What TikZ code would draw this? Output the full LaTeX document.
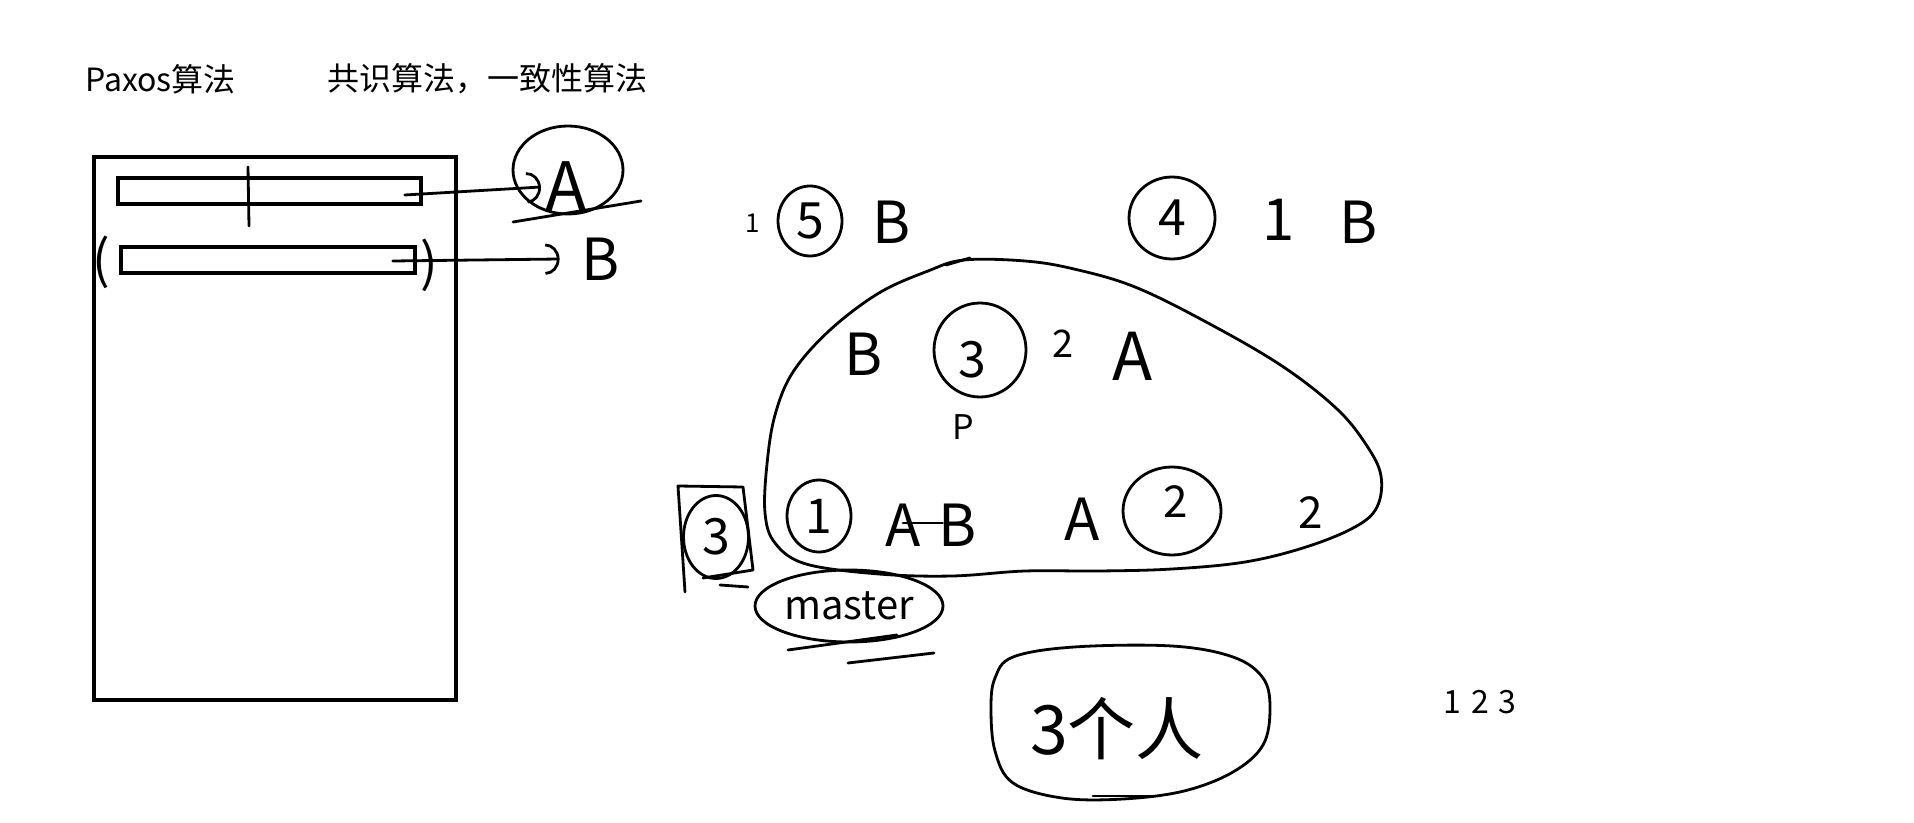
\documentclass[tikz,border=0pt]{standalone}
\usepackage{fontspec}
\setmainfont{Noto Sans CJK SC}
\usetikzlibrary{arrows.meta, positioning, shapes.geometric}

\begin{document}
\begin{tikzpicture}[
    x=0.5pt, y=-0.5pt,
    every node/.style={inner sep=0pt},
    title/.style={font=\fontsize{16}{18}\selectfont, anchor=west},
    hand/.style={font=\fontsize{29}{30}\selectfont},
    handsmall/.style={font=\fontsize{19}{20}\selectfont},
    ring/.style={ellipse, draw, line width=1.4pt},
    bar/.style={rectangle, draw, line width=1.8pt, minimum height=13pt},
    stroke/.style={line width=1.4pt, line cap=round, line join=round},
    arrow/.style={stroke, -{Arc Barb[length=2.5mm, width=5.5mm]}}
]
\useasboundingbox (0,0) rectangle (1914,823);

% headings
\node[title] (paxos) at (85,79) {Paxos算法};
\node[title] (consensus) at (327,79) {共识算法，一致性算法};

% the page with two proposals
\node[draw, line width=1.8pt, anchor=north west, minimum width=181pt, minimum height=271.5pt] (page) at (92,155) {};
\node[bar, minimum width=151.5pt] (bar1) at (269.5,191) {};
\node[bar, minimum width=147pt] (bar2) at (268,260) {};
\draw[stroke] (248,167) -- (249,226);
\node[hand, font=\fontsize{26}{26}\selectfont] (lparen) at (101,262) {(};
\node[hand, font=\fontsize{26}{26}\selectfont] (rparen) at (429,265) {)};

\node[ring, minimum width=55pt, minimum height=44pt] (aring) at (568,170) {};
\node[hand, font=\fontsize{34}{34}\selectfont] (avalue) at (566,187) {A};
\draw[stroke] (513,222) -- (641,201);
\node[hand] (bvalue) at (601,259) {B};
\draw[arrow] ([xshift=-9pt,yshift=-2pt]bar1.east) -- ([xshift=-2pt]avalue.west);
\draw[arrow] ([xshift=-12pt,yshift=-0.5pt]bar2.east) -- ([xshift=-11pt]bvalue.west);

% top row
\node[font=\fontsize{13}{13}\selectfont] (one5) at (753,223) {1};
\node[ring, hand, font=\fontsize{25}{25}\selectfont, minimum width=32pt, minimum height=35pt] (n5) at (810,221) {5};
\node[hand] (b5) at (892,222) {B};
\node[ring, hand, font=\fontsize{25}{25}\selectfont, minimum width=43pt, minimum height=41pt] (n4) at (1172,218) {4};
\node[hand] (one4) at (1279,220) {1};
\node[hand] (b4) at (1359,222) {B};

% the group
\draw[stroke] plot[smooth cycle, tension=0.6] coordinates {
    (964,260) (1025,261) (1074,269) (1135,287) (1208,323) (1282,366)
    (1337,409) (1367,446) (1381,476) (1377,507) (1355,527) (1306,547)
    (1245,562) (1172,569) (1099,571) (1025,571) (952,576) (879,574)
    (806,564) (775,543) (765,513) (767,464) (775,415) (793,372)
    (830,330) (879,293) (928,271)};
\draw[stroke] (946,265) -- (970,258);

\node[hand] (b3) at (864,354) {B};
\node[ring, minimum width=46pt, minimum height=47pt] (n3) at (980,350) {};
\node[hand, font=\fontsize{25}{25}\selectfont] (n3text) at (972,360) {3};
\node[handsmall] (two3) at (1063,344) {2};
\node[hand, font=\fontsize{33}{33}\selectfont] (a3) at (1133,356) {A};
\node[handsmall, font=\fontsize{17}{17}\selectfont] (p3) at (963,427) {P};

\node[ring, hand, font=\fontsize{24}{24}\selectfont, minimum width=32pt, minimum height=36pt] (n1) at (819,516) {1};
\node[hand] (a1) at (903,525) {A};
\node[hand] (b1) at (958,525) {B};
\draw[stroke] ([yshift=1pt]a1.center) -- ([xshift=2pt,yshift=1pt]b1.west);
\node[hand] (a2) at (1082,519) {A};
\node[ring, minimum width=49pt, minimum height=44pt] (n2) at (1172,511) {};
\node[handsmall, font=\fontsize{22}{22}\selectfont] (n2text) at (1176,502) {2};
\node[handsmall, font=\fontsize{22}{22}\selectfont] (two2) at (1311,513) {2};

% boxed 3 and master
\node[ring, hand, font=\fontsize{25}{25}\selectfont, minimum width=32.5pt, minimum height=41.5pt] (boxed3) at (716,537) {3};
\draw[stroke] (685,592) -- (678,486) -- (743,487) -- (753,570) -- (703,578);
\draw[stroke] (720,585) -- (748,587);

\node[ring, minimum width=94pt, minimum height=36pt, font=\fontsize{20}{20}\selectfont] (master) at (849,606) {master};
\draw[stroke] (788,650) -- (897,635);
\draw[stroke] (848,663) -- (934,653);

% three people
\draw[stroke] plot[smooth cycle, tension=0.6] coordinates {
    (1013,657) (1074,647) (1172,646) (1233,657) (1263,678) (1270,708)
    (1263,745) (1233,772) (1184,791) (1123,799) (1062,798) (1013,783)
    (995,751) (991,708) (995,678)};
\node[font=\fontsize{34}{34}\selectfont] (people) at (1117,729) {3个人};
\draw[stroke] (1093,796) -- (1154,796);

\node[font=\fontsize{16}{16}\selectfont] (count) at (1480,702) {1\hspace{5pt}2\hspace{5pt}3};
\end{tikzpicture}
\end{document}
